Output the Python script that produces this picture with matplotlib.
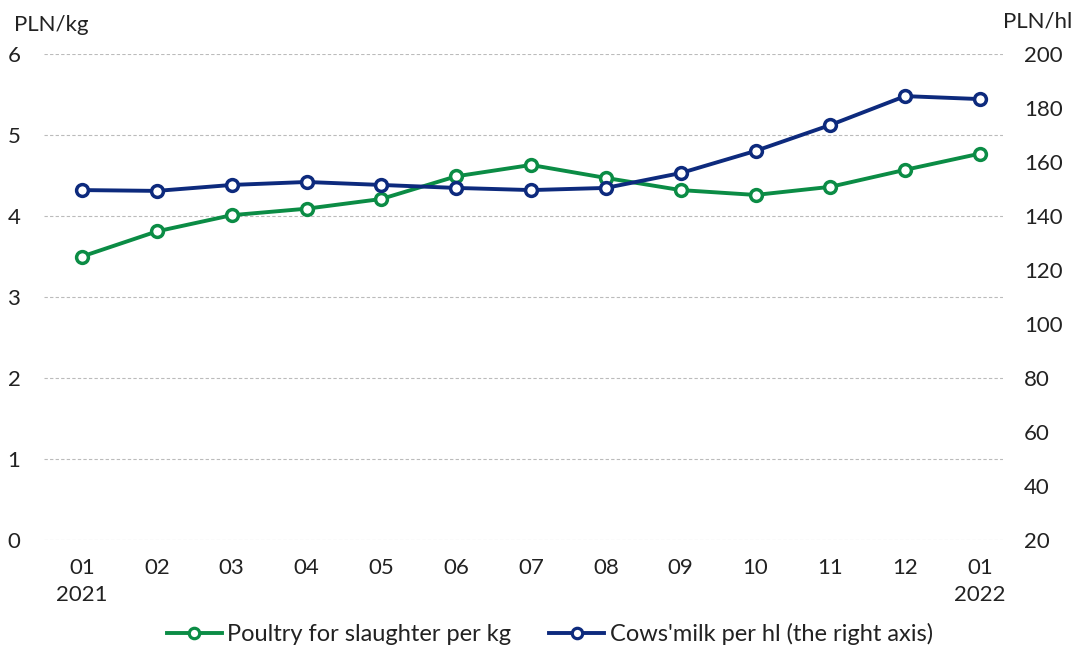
import matplotlib
matplotlib.use("Agg")
import matplotlib.pyplot as plt
from matplotlib.lines import Line2D

months = ["01\n2021", "02", "03", "04", "05", "06", "07", "08", "09", "10", "11", "12", "01\n2022"]
poultry = [3.50, 3.81, 4.01, 4.09, 4.21, 4.49, 4.63, 4.47, 4.32, 4.26, 4.36, 4.57, 4.77]
milk = [149.6, 149.3, 151.5, 152.6, 151.5, 150.4, 149.6, 150.4, 155.9, 164.1, 173.7, 184.4, 183.3]
left_ticks = [0, 1, 2, 3, 4, 5, 6]
right_ticks = [20, 40, 60, 80, 100, 120, 140, 160, 180, 200]

GREEN = "#0b8c45"
BLUE = "#0d2a7d"
TXT = "#222222"

plt.rcParams['font.family'] = ['Lato', 'DejaVu Sans']

fig = plt.figure(figsize=(10.78, 6.46), dpi=100)
ax = fig.add_axes([44/1078, 1-540/646, (1003-44)/1078, (540-54)/646])
ax2 = ax.twinx()

x = list(range(len(months)))
ax.plot(x, poultry, color=GREEN, lw=2.8, marker='o', ms=8.5, mfc='white', mec=GREEN, mew=2.5, zorder=3)
ax2.plot(x, milk, color=BLUE, lw=2.8, marker='o', ms=8.5, mfc='white', mec=BLUE, mew=2.5, zorder=3)

step = (980 - 82) / 12
ax.set_xlim(-(82 - 44) / step, 12 + (1003 - 980) / step)
ax.set_ylim(0, 6)
ax2.set_ylim(20, 200)
ax.set_yticks(left_ticks)
ax2.set_yticks(right_ticks)
ax.set_xticks(x)
ax.set_xticklabels(months, fontsize=16, color=TXT, linespacing=1.45)

for a in (ax, ax2):
    for s in a.spines.values():
        s.set_visible(False)
    a.tick_params(length=0, labelsize=16, labelcolor=TXT)
ax.tick_params(axis='y', pad=17)
ax.tick_params(axis='x', pad=13)
ax2.tick_params(axis='y', pad=15)
ax.grid(axis='y', color='#bbbbbb', ls=(0, (3, 2)), lw=0.8)
ax.set_axisbelow(True)

fig.text(14/1078, 1-25/646, "PLN/kg", fontsize=16, color=TXT, va='center', ha='left')
fig.text(1072/1078, 1-22/646, "PLN/hl", fontsize=16, color=TXT, va='center', ha='right')

handles = [
    Line2D([], [], color=GREEN, lw=2.8, marker='o', ms=7.5, mfc='white', mec=GREEN, mew=2.3),
    Line2D([], [], color=BLUE, lw=2.8, marker='o', ms=7.5, mfc='white', mec=BLUE, mew=2.3),
]
fig.legend(handles, ["Poultry for slaughter per kg", "Cows'milk per hl (the right axis)"],
           loc='center', bbox_to_anchor=(550/1078, 1-634/646), ncol=2, frameon=False,
           fontsize=17, handlelength=2.3, handletextpad=0.25, columnspacing=1.6,
           labelcolor=TXT)

fig.savefig("out.png", dpi=100)
